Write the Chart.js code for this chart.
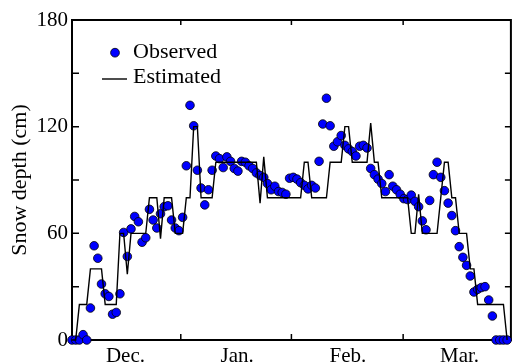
<!DOCTYPE html>
<html>
<head>
<meta charset="utf-8">
<script src="https://cdn.jsdelivr.net/npm/chart.js@4/dist/chart.umd.min.js"></script>
<style>
  html, body { margin: 0; padding: 0; background: #fff; }
  #wrap { width: 515px; height: 364px; }
</style>
</head>
<body>
<div id="wrap"><canvas id="snowChart" width="515" height="364"></canvas></div>
<script>
//Daily snow depth in cm, one value per day. Day 0 sits on the left edge of the plot.
const observed = [
  0, 0, 0, 3, 0, 18, 53, 46, 31.5, 26,
  24.5, 14.5, 15.5, 26, 60.5, 47, 62.5, 69.5, 66.5, 55,
  57.5, 73.5, 67.5, 63, 71, 75, 75.5, 67.5, 63, 61.5,
  69, 98, 132, 120.5, 95.5, 85.5, 76, 84.5, 95.5, 103.5,
  102, 97, 103, 100.5, 96.5, 95, 100.5, 100, 98, 96.5,
  94, 92.5, 91.5, 88, 84.5, 86.5, 83.5, 83, 82, 91,
  91.5, 90.5, 88.5, 87, 85, 87, 85.5, 100.5, 121.5, 136,
  120.5, 109, 111.5, 115, 109.5, 107.5, 106, 103.5, 109, 109.5,
  108, 96.5, 93, 90.5, 88, 83.5, 93, 86.5, 84.5, 82,
  79.5, 79, 81.5, 78, 75, 67, 62, 78.5, 93, 100,
  91.5, 84, 77, 70, 61.5, 52.5, 46.5, 42, 36, 27,
  28.5, 29.5, 30, 22.5, 13.5, 0, 0, 0, 0
];
const estimated = [
  0, 0, 20, 20, 20, 40, 40, 40, 40, 20,
  20, 20, 20, 60, 60, 37, 60, 60, 60, 60,
  60, 80, 80, 80, 57, 80, 80, 80, 60, 60,
  60, 80, 80, 120, 120, 80, 80, 80, 80, 100,
  100, 100, 100, 100, 100, 100, 100, 100, 100, 100,
  100, 77, 103, 80, 80, 80, 80, 80, 80, 80,
  80, 80, 80, 100, 100, 80, 80, 80, 80, 80,
  100, 100, 100, 100, 120, 120, 100, 100, 100, 100,
  100, 122, 100, 100, 80, 80, 80, 80, 80, 80,
  80, 80, 60, 60, 82, 60, 60, 60, 60, 60,
  80, 100, 100, 80, 80, 60, 60, 60, 40, 40,
  20, 20, 20, 20, 20, 20, 20, 20, 0
];
const monthLabels = ["Dec.", "Jan.", "Feb.", "Mar."];
const monthLabelDays = [14.5, 44.8, 74.8, 105.1];
const monthTickDays = [29.5, 59.5, 89.8];
const yTicks = [0, 60, 120, 180];
const yTickMarks = [0, 30, 60, 90, 120, 150, 180];
const legendLabels = ["Observed", "Estimated"];

const FONT = "'Liberation Serif', 'Times New Roman', serif";

//Frame and inward tick marks, drawn under the data so dots sit on top of the axis
const framePlugin = {
  id: "frame",
  beforeDatasetsDraw(chart) {
    const { ctx, chartArea: a, scales: { x, y } } = chart;
    const right = a.right + 1;
    ctx.save();
    ctx.strokeStyle = "#000";
    ctx.lineWidth = 1.5;
    ctx.beginPath();
    for (const d of monthTickDays) {
      const px = x.getPixelForValue(d);
      ctx.moveTo(px, a.bottom);
      ctx.lineTo(px, a.bottom - 6);
      ctx.moveTo(px, a.top);
      ctx.lineTo(px, a.top + 5);
    }
    for (const v of yTickMarks) {
      const py = y.getPixelForValue(v);
      ctx.moveTo(a.left, py);
      ctx.lineTo(a.left + 7, py);
      ctx.moveTo(right, py);
      ctx.lineTo(right - 6, py);
    }
    ctx.stroke();
    ctx.lineWidth = 2;
    ctx.strokeRect(a.left, a.top, right - a.left, a.bottom - a.top);
    ctx.restore();
  },
};

//Legend sits inside the plot, top left
const legendPlugin = {
  id: "innerLegend",
  afterDraw(chart) {
    const { ctx, chartArea: a } = chart;
    ctx.save();
    ctx.font = "22px " + FONT;
    ctx.textBaseline = "middle";
    ctx.textAlign = "left";

    ctx.beginPath();
    ctx.arc(a.left + 43, a.top + 32.7, 4.4, 0, Math.PI * 2);
    ctx.fillStyle = "#0000ff";
    ctx.fill();
    ctx.lineWidth = 0.8;
    ctx.strokeStyle = "#000";
    ctx.stroke();
    ctx.fillStyle = "#000";
    ctx.fillText(legendLabels[0], a.left + 61, a.top + 32.6);

    ctx.beginPath();
    ctx.moveTo(a.left + 30, a.top + 59);
    ctx.lineTo(a.left + 55, a.top + 59);
    ctx.lineWidth = 1.4;
    ctx.stroke();
    ctx.fillText(legendLabels[1], a.left + 61, a.top + 57.6);
    ctx.restore();
  },
};

new Chart(document.getElementById("snowChart"), {
  type: "scatter",
  data: {
    datasets: [
      {
        label: legendLabels[1],
        data: estimated.map((v, i) => ({ x: i, y: v })),
        showLine: true,
        borderColor: "#000",
        borderWidth: 1.4,
        pointRadius: 0,
        tension: 0,
        fill: false,
        clip: false,
        order: 0,
      },
      {
        label: legendLabels[0],
        data: observed.map((v, i) => ({ x: i, y: v })),
        showLine: false,
        backgroundColor: "#0000ff",
        borderColor: "#000",
        borderWidth: 0.8,
        pointRadius: 4.3,
        clip: false,
        order: 1,
      },
    ],
  },
  options: {
    responsive: false,
    animation: false,
    devicePixelRatio: 1,
    events: [],
    layout: { padding: { top: 20, right: 0, bottom: 0, left: 0 } },
    plugins: { legend: { display: false }, tooltip: { enabled: false } },
    scales: {
      x: {
        type: "linear",
        min: 0,
        max: 118.75,
        grid: { display: false, drawTicks: false },
        border: { display: false },
        afterBuildTicks: (scale) => {
          scale.ticks = monthLabelDays.map((v) => ({ value: v }));
        },
        afterFit: (scale) => {
          scale.height = 24;
        },
        ticks: {
          autoSkip: false,
          maxRotation: 0,
          padding: 4,
          color: "#000",
          font: { family: FONT, size: 21 },
          callback: (value, index) => monthLabels[index],
        },
      },
      y: {
        min: 0,
        max: 180,
        grid: { display: false, drawTicks: false },
        border: { display: false },
        afterBuildTicks: (scale) => {
          scale.ticks = yTicks.map((v) => ({ value: v }));
        },
        afterFit: (scale) => {
          scale.width = 72;
        },
        ticks: {
          padding: 4,
          color: "#000",
          font: { family: FONT, size: 21 },
        },
        title: {
          display: true,
          text: "Snow depth (cm)",
          color: "#000",
          padding: { top: 7, bottom: 0 },
          font: { family: FONT, size: 22 },
        },
      },
    },
  },
  plugins: [framePlugin, legendPlugin],
});
</script>
</body>
</html>
